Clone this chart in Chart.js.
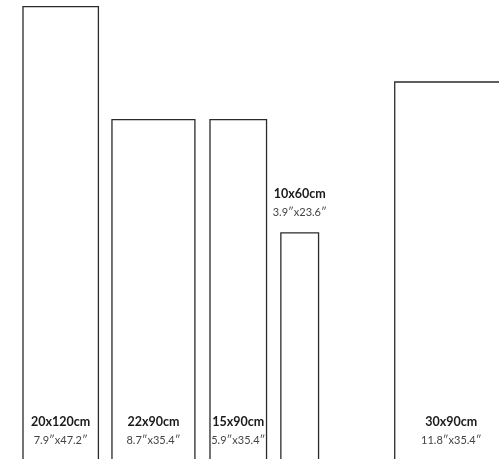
<!DOCTYPE html>
<html>
<head>
<meta charset="utf-8">
<script src="https://cdn.jsdelivr.net/npm/chart.js@4"></script>
<style>
  html, body { margin: 0; padding: 0; background: #fff; }
  #wrap { width: 499px; height: 459px; position: relative; }
</style>
</head>
<body>
<div id="wrap"><canvas id="chart"></canvas></div>
<script>
// tile sizes, cm
const sizeLabels = ['20x120cm', '22x90cm', '15x90cm', '10x60cm', '30x90cm'];
const inchLabels = ['7.9\u2033x47.2\u2033', '8.7\u2033x35.4\u2033', '5.9\u2033x35.4\u2033', '3.9\u2033x23.6\u2033', '11.8\u2033x35.4\u2033'];
const tileWidths = [20, 22, 15, 10, 30];
const tileHeights = [120, 90, 90, 60, 100];
const tileLeft = [6.1, 29.7, 55.7, 74.5, 104.7];

const PX_PER_CM = 3.77;
const W = 499, H = 459;

const datasets = tileWidths.map((w, i) => {
  const l = tileLeft[i], h = tileHeights[i];
  return {
    label: sizeLabels[i],
    data: [{ x: l, y: 0 }, { x: l, y: h }, { x: l + w, y: h }, { x: l + w, y: 0 }],
    showLine: true,
    borderColor: '#2b2b2b',
    borderWidth: 1.3,
    pointRadius: 0,
    tension: 0,
    fill: false,
  };
});

const tileLabelPlugin = {
  id: 'tileLabels',
  afterDatasetsDraw(chart) {
    const { ctx, scales: { x, y } } = chart;
    ctx.save();
    ctx.textAlign = 'center';
    ctx.textBaseline = 'middle';
    for (let i = 0; i < sizeLabels.length; i++) {
      const cx = x.getPixelForValue(tileLeft[i] + tileWidths[i] / 2);
      let y1, y2;
      if (tileWidths[i] <= 10) {
        // too narrow: put the text above the tile
        const top = y.getPixelForValue(tileHeights[i]);
        y1 = top - 39;
        y2 = top - 20;
      } else {
        y1 = 422;
        y2 = 440;
      }
      ctx.fillStyle = '#1a1a1a';
      ctx.font = 'bold 12.5px Lato';
      ctx.fillText(sizeLabels[i], cx, y1);
      ctx.fillStyle = '#444';
      ctx.font = '11px Lato';
      ctx.fillText(inchLabels[i], cx, y2);
    }
    ctx.restore();
  }
};

new Chart(document.getElementById('chart'), {
  type: 'scatter',
  data: { datasets },
  plugins: [tileLabelPlugin],
  options: {
    responsive: true,
    maintainAspectRatio: false,
    animation: false,
    layout: { padding: 0 },
    scales: {
      x: { type: 'linear', display: false, min: 0, max: W / PX_PER_CM },
      y: { type: 'linear', display: false, min: 0, max: H / PX_PER_CM },
    },
    plugins: {
      legend: { display: false },
      tooltip: { enabled: false },
    },
  }
});
</script>
</body>
</html>
